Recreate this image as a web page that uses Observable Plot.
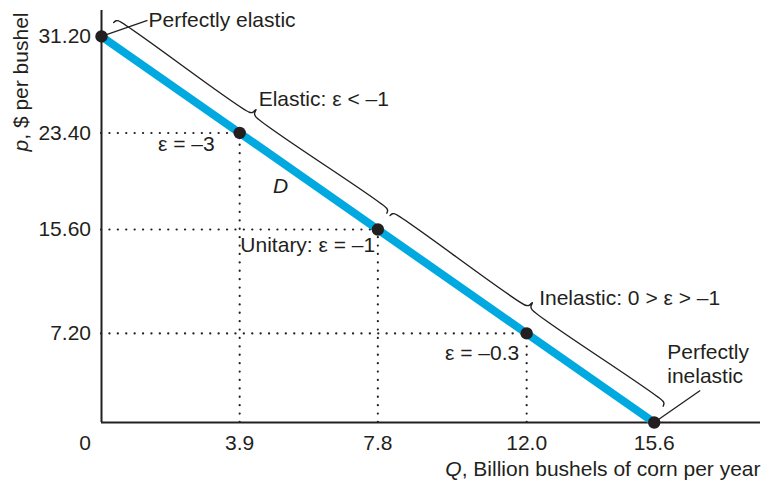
<!DOCTYPE html>
<html>
<head>
<meta charset="utf-8">
<script src="https://cdn.jsdelivr.net/npm/d3@7"></script>
<script src="https://cdn.jsdelivr.net/npm/@observablehq/plot@0.6"></script>
<style>
  html, body { margin: 0; padding: 0; background: #ffffff; }
  #chart svg { display: block; }
</style>
</head>
<body>
<div id="chart"></div>
<script>
// ---- data ----
const quantities = [0, 3.9, 7.8, 12.0, 15.6];          // Q, billion bushels
const prices     = [31.20, 23.40, 15.60, 7.20, 0];     // p, $ per bushel
const xTicks = [3.9, 7.8, 12.0, 15.6];
const yTicks = [31.20, 23.40, 15.60, 7.20];
const guideIdx = [1, 2, 3];                            // points with dotted guides
const braceFrom = [0, 7.8];                            // elasticity regions (Q)
const braceTo   = [7.8, 15.6];
const xLabel = "Q, Billion bushels of corn per year";
const yLabel = "p, $ per bushel";

// ---- layout ----
const W = 774, H = 489, mL = 101, mR = 14, mT = 10, mB = 67;
const xMax = 18.6, yMax = 33.3;
const kx = (W - mL - mR) / xMax, ky = (H - mT - mB) / yMax;   // px per unit
const ink = "#231f20", blue = "#00a9e0", FS = 21;

const pts = quantities.map((q, i) => ({q, p: prices[i]}));
const guides = guideIdx.map(i => pts[i]);
const A = pts[0], B = pts[pts.length - 1];

// pixel frame along the demand curve
const vx = (B.q - A.q) * kx, vy = (A.p - B.p) * ky;
const L = Math.hypot(vx, vy), ux = vx / L, uy = vy / L, nx = uy, ny = -ux;
const toData = (s, t) => ({q: A.q + (s * ux + t * nx) / kx, p: A.p - (s * uy + t * ny) / ky});
const sOf = q => (q - A.q) / (B.q - A.q) * L;
const off = (pt, dx, dy) => ({q: pt.q + dx / kx, p: pt.p - dy / ky});

// braces
const braces = [];
braceFrom.forEach((f, g) => {
  const s0 = sOf(f) + 2, s1 = sOf(braceTo[g]) - 2, m = (s0 + s1) / 2;
  const key = [[s0, 18.5], [s0 + 1, 21.3], [s0 + 3, 22.5], [m - 4, 22.5], [m - 1.2, 24.2], [m, 28.5],
               [m + 1.2, 24.2], [m + 4, 22.5], [s1 - 3, 22.5], [s1 - 1, 21.3], [s1, 18.5]];
  key.forEach(([s, t]) => braces.push({...toData(s, t), g}));
});

const leaders = [
  {a: pts[0], b: off(pts[0], 46, -16)},
  {a: pts[4], b: off(pts[4], 46, -32)}
];

const plot = Plot.plot({
  width: W, height: H,
  marginLeft: mL, marginRight: mR, marginTop: mT, marginBottom: mB,
  x: {domain: [0, xMax], axis: null},
  y: {domain: [0, yMax], axis: null},
  style: {fontFamily: "'Liberation Sans', Arial, Helvetica, sans-serif", fontSize: FS + "px", color: ink, background: "#ffffff"},
  marks: [
    // dotted guides
    Plot.ruleY(guides, {y: "p", x1: 0, x2: "q", stroke: ink, strokeWidth: 2.2, strokeDasharray: "0.1,8.3", strokeLinecap: "round"}),
    Plot.ruleX(guides, {x: "q", y1: 0, y2: "p", stroke: ink, strokeWidth: 2.2, strokeDasharray: "0.1,8.3", strokeLinecap: "round"}),
    // axes lines
    Plot.ruleX([0], {y1: 0, y2: yMax, stroke: ink, strokeWidth: 2}),
    Plot.ruleY([0], {x1: 0, x2: xMax, stroke: ink, strokeWidth: 2}),
    // braces
    Plot.line(braces, {x: "q", y: "p", z: "g", curve: "catmull-rom", stroke: ink, strokeWidth: 1.4}),
    // leaders
    Plot.link(leaders, {x1: d => d.a.q, y1: d => d.a.p, x2: d => d.b.q, y2: d => d.b.p, stroke: ink, strokeWidth: 1.3}),
    // demand curve
    Plot.line(pts, {x: "q", y: "p", stroke: blue, strokeWidth: 8}),
    Plot.dot(pts, {x: "q", y: "p", r: 6.2, fill: ink}),
    // tick labels
    Plot.text(yTicks, {x: 0, y: d => d, text: d => d.toFixed(2), textAnchor: "end", dx: -10.5, fontSize: FS, fill: ink}),
    Plot.text(xTicks, {x: d => d, y: 0, text: d => d.toFixed(1), dy: 20.5, fontSize: FS, fill: ink}),
    Plot.text([0], {x: 0, y: 0, text: d => String(d), dx: -16.5, dy: 20.5, fontSize: FS, fill: ink}),
    // axis labels
    Plot.text([xLabel], {frameAnchor: "bottom-right", text: d => d, textAnchor: "end", dy: 53.3, fontSize: FS, fill: ink}),
    Plot.text([yLabel], {frameAnchor: "top-left", text: d => d, textAnchor: "end", rotate: -90, dx: -88, dy: 2, fontSize: FS, fill: ink}),
    // annotations
    Plot.text([pts[0]], {x: "q", y: "p", text: () => "Perfectly elastic", textAnchor: "start", dx: 47, dy: -16.7, fontSize: FS, fill: ink}),
    Plot.text([pts[1]], {x: "q", y: "p", text: () => "Elastic: \u03b5 < \u20131", textAnchor: "start", dx: 19, dy: -34.2, fontSize: FS, fill: ink}),
    Plot.text([pts[1]], {x: "q", y: "p", text: () => "\u03b5 = \u20133", textAnchor: "end", dx: -25, dy: 10.8, fontSize: FS, fill: ink}),
    Plot.text([pts[1]], {x: "q", y: "p", text: () => "D", fontStyle: "italic", dx: 40.8, dy: 52.8, fontSize: FS, fill: ink}),
    Plot.text([pts[2]], {x: "q", y: "p", text: () => "Unitary: \u03b5 = \u20131", textAnchor: "start", dx: -137.5, dy: 15.8, fontSize: FS, fill: ink}),
    Plot.text([pts[3]], {x: "q", y: "p", text: () => "Inelastic: 0 > \u03b5 > \u20131", textAnchor: "start", dx: 12.5, dy: -35.1, fontSize: FS, fill: ink}),
    Plot.text([pts[3]], {x: "q", y: "p", text: () => "\u03b5 = \u20130.3", textAnchor: "end", dx: -7.5, dy: 20, fontSize: FS, fill: ink}),
    Plot.text([pts[4]], {x: "q", y: "p", text: () => "Perfectly\ninelastic", textAnchor: "start", lineHeight: 1.143, dx: 13, dy: -58.7, fontSize: FS, fill: ink})
  ]
});

// italicise the variable letter in the axis labels
for (const t of plot.querySelectorAll("text")) {
  const s = t.textContent;
  if ((s === xLabel || s === yLabel) && t.children.length === 0) {
    t.textContent = "";
    const ts = document.createElementNS("http://www.w3.org/2000/svg", "tspan");
    ts.setAttribute("font-style", "italic");
    ts.textContent = s[0];
    t.appendChild(ts);
    t.appendChild(document.createTextNode(s.slice(1)));
  }
}
document.getElementById("chart").appendChild(plot);
</script>
</body>
</html>
